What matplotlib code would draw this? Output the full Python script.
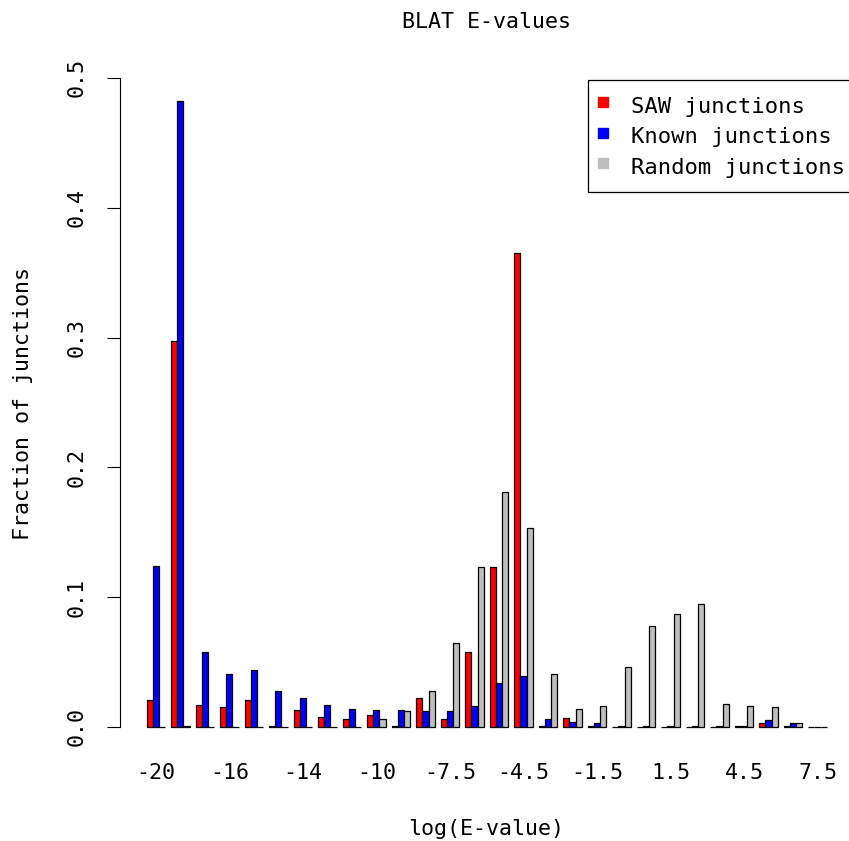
import matplotlib
matplotlib.use('Agg')
import matplotlib.pyplot as plt
from matplotlib.lines import Line2D

# ---- data ----
categories = ["-20", "-19", "-18", "-16", "-15.5", "-15", "-14", "-13", "-12", "-10",
              "-9", "-8", "-7.5", "-6.5", "-5.5", "-4.5", "-3.5", "-2.5", "-1.5", "-0.5",
              "0.5", "1.5", "2.5", "3.5", "4.5", "5.5", "6.5", "7.5"]
saw = [0.021, 0.297, 0.017, 0.015, 0.021, 0.001, 0.013, 0.008, 0.006, 0.009,
       0.001, 0.022, 0.006, 0.058, 0.123, 0.365, 0.001, 0.007, 0.001, 0.0,
       0.0, 0.0, 0.0, 0.0, 0.001, 0.003, 0.001, 0.0]
known = [0.124, 0.482, 0.058, 0.041, 0.044, 0.028, 0.022, 0.017, 0.014, 0.013,
         0.013, 0.012, 0.012, 0.016, 0.034, 0.039, 0.006, 0.004, 0.003, 0.001,
         0.001, 0.001, 0.001, 0.001, 0.001, 0.005, 0.003, 0.0]
random_j = [0.0, 0.001, 0.0, 0.0, 0.0, 0.0, 0.0, 0.0, 0.0, 0.006,
            0.012, 0.028, 0.065, 0.123, 0.181, 0.153, 0.041, 0.014, 0.016, 0.046,
            0.078, 0.087, 0.095, 0.018, 0.016, 0.015, 0.003, 0.0]
series_names = ["SAW junctions", "Known junctions", "Random junctions"]
series_colors = ["#FF0000", "#0000FF", "#BEBEBE"]
yticks = [0.0, 0.1, 0.2, 0.3, 0.4, 0.5]

plt.rcParams['font.family'] = ['DejaVu Sans Mono', 'DejaVu Sans']
plt.rcParams['font.size'] = 15.6

W, H = 849, 841
fig = plt.figure(figsize=(W / 100, H / 100), dpi=100)
left_px, right_px = 119.5, 853.9
bot_px, top_px = 89.0, 765.6
ax = fig.add_axes([left_px / W, bot_px / H, (right_px - left_px) / W, (top_px - bot_px) / H])

n = len(categories)
series = [saw, known, random_j]
for s, (vals, col) in enumerate(zip(series, series_colors)):
    xs = [i * 4 + 1.5 + s for i in range(n)]
    ax.bar(xs, vals, width=1.0, color=col, edgecolor='black', linewidth=0.9, zorder=2)

ax.set_xlim(-3.44, 116.44)
ax.set_ylim(-0.0193, 0.502)

for sp in ['top', 'right', 'bottom']:
    ax.spines[sp].set_visible(False)
ax.spines['left'].set_bounds(0, 0.5)
ax.spines['left'].set_linewidth(0.8)

ax.set_yticks(yticks)
ax.set_yticklabels([f"{v:.1f}" for v in yticks])
ax.tick_params(axis='y', length=9.4, width=0.8, pad=14, labelrotation=90)
for lab in ax.get_yticklabels():
    lab.set_va('center')

centers = [i * 4 + 2.5 for i in range(n)]
ax.set_xticks(centers[::3])
ax.set_xticklabels(categories[::3])
ax.tick_params(axis='x', length=0, pad=8)

handles = [Line2D([], [], linestyle='none', marker='s', markersize=6.5,
                  markerfacecolor=c, markeredgecolor=c) for c in series_colors]
leg = ax.legend(handles, series_names, loc='upper right',
                bbox_to_anchor=(856 / W, 1 - 80 / H), bbox_transform=fig.transFigure,
                frameon=True, fancybox=False, edgecolor='black', framealpha=1,
                borderpad=0.5, labelspacing=0.1, handlelength=0.4, handleheight=1.6,
                handletextpad=1.05, borderaxespad=0.0, prop={'size': 16})
leg.get_frame().set_linewidth(0.9)

fig.text((left_px + right_px) / 2 / W, 1 - 22 / H, "BLAT E-values", ha='center', va='center')
fig.text((left_px + right_px) / 2 / W, 1 - 829 / H, "log(E-value)", ha='center', va='center')
fig.text(23 / W, 1 - 403 / H, "Fraction of junctions", rotation=90, ha='center', va='center')

fig.savefig("out.png", dpi=100)
